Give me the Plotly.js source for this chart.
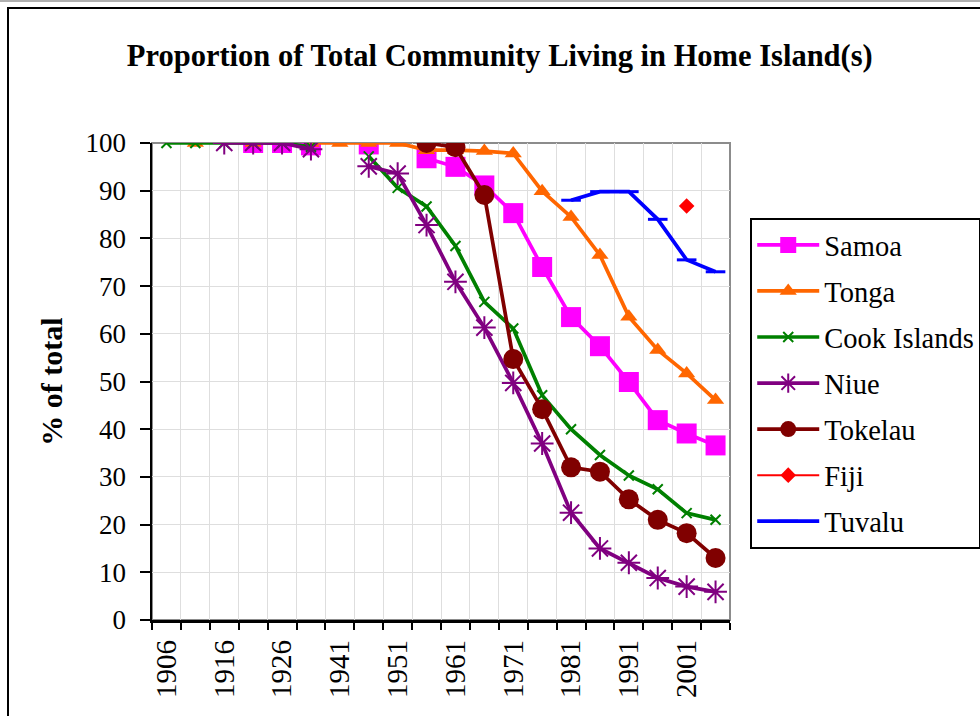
<!DOCTYPE html>
<html>
<head>
<meta charset="utf-8">
<script src="https://cdn.plot.ly/plotly-3.0.1.min.js"></script>
<style>
  html, body { margin: 0; padding: 0; background: #ffffff; }
  #wrap { position: relative; width: 980px; height: 716px; overflow: hidden; }
  #chart { width: 980px; height: 716px; }
  #frame { position: absolute; left: 7px; top: 7px; width: 1100px; height: 1100px;
           border: 2.5px solid #000; pointer-events: none; }
  #topline { position: absolute; left: 0; top: 0; width: 980px; height: 2px;
             background: #b0b0b0; pointer-events: none; }
</style>
</head>
<body>
<div id="wrap">
  <div id="chart"></div>
  <div id="frame"></div>
  <div id="topline"></div>
</div>
<script>
const categories = ['1906','1911','1916','1921','1926','1936','1941','1945','1951','1956',
                    '1961','1966','1971','1976','1981','1986','1991','1996','2001','2006'];
const tickLabels = ['1906','','1916','','1926','','1941','','1951','',
                    '1961','','1971','','1981','','1991','','2001',''];

const samoa   = [null,null,null,100,100,99.5,null,99.7,null,96.8,95.0,91.1,85.3,74.0,63.5,57.4,49.9,41.9,39.1,36.6];
const tonga   = [null,100,null,100,null,100,100,100,100,98.5,98.5,98.3,97.8,89.9,84.5,76.5,63.6,56.6,51.7,46.1];
const cook    = [100,100,100,100,100,99.2,null,97.2,90.6,86.7,78.4,66.7,61.1,47.1,40.0,34.6,30.3,27.4,22.4,21.0];
const niue    = [null,null,100,100,100,98.7,null,95.1,93.6,82.8,70.9,61.3,49.7,37.0,22.5,15.0,12.0,8.8,7.0,5.9];
const tokelau = [null,null,null,null,null,null,null,null,null,100,99.1,89.1,54.7,44.2,32.0,31.1,25.3,21.0,18.2,13.0];
const fiji    = [null,null,null,null,null,null,null,null,null,null,null,null,null,null,null,null,null,null,86.8,null];
const tuvalu  = [null,null,null,null,null,null,null,null,null,null,null,null,null,null,88.0,89.8,89.8,84.0,75.5,73.0];

const FONT = '"Liberation Serif", "Times New Roman", Times, serif';

function tr(name, y, color, symbol, size, lw, mline, group) {
  return {
    type: 'scatter', mode: 'lines+markers', name: name, x: categories, y: y,
    legendgroup: group,
    line: { color: color, width: lw },
    marker: { symbol: symbol, size: size, color: color,
              line: { color: color, width: mline } },
    connectgaps: false
  };
}

const traces = [
  tr('Samoa', samoa, '#FF00FF', 'square', 20, 3.7, 0, 'a'),
  tr('Tonga', tonga, '#FF6600', 'triangle-up', 15, 3.7, 0, 'b'),
  tr('Cook Islands', cook, '#008000', 'x-thin-open', 10, 3.7, 2, 'c'),
  tr('Niue', niue, '#800080', 'asterisk-open', 19, 3.7, 2, 'd'),
  tr('Tokelau', tokelau, '#800000', 'circle', 20, 3.7, 0, 'e'),
  tr('Fiji', fiji, '#FF0000', 'diamond', 12, 2, 0, 'f'),
  tr('Tuvalu', tuvalu, '#0000FF', 'line-ew-open', 14, 3.7, 3, 'g')
];

const layout = {
  width: 980, height: 716,
  margin: { l: 152, r: 250, t: 143, b: 96, autoexpand: false },
  paper_bgcolor: '#ffffff', plot_bgcolor: '#ffffff',
  font: { family: FONT, color: '#000000', size: 27 },
  title: { text: '<b>Proportion of Total Community Living in Home Island(s)</b>',
           x: 0.51, xanchor: 'center', y: 0.923, yanchor: 'middle',
           font: { family: FONT, size: 30.5, color: '#000' } },
  xaxis: {
    type: 'category', categoryorder: 'array', categoryarray: categories,
    tickmode: 'array', tickvals: categories, ticktext: tickLabels,
    tickson: 'boundaries', ticks: 'outside', ticklen: 7, tickwidth: 2, tickcolor: '#000',
    tickangle: -90, tickfont: { family: FONT, size: 29 }, ticklabelstandoff: 6,
    showline: true, linecolor: '#000', linewidth: 2.5,
    showgrid: true, gridcolor: '#dedede', gridwidth: 1,
    range: [-0.5, categories.length - 0.5], fixedrange: true
  },
  yaxis: {
    range: [0, 100], dtick: 10, tick0: 0,
    ticks: 'outside', ticklen: 10, tickwidth: 2, tickcolor: '#000',
    tickfont: { family: FONT, size: 27 }, ticklabelstandoff: 8,
    showline: true, linecolor: '#000', linewidth: 2.5,
    showgrid: true, gridcolor: '#dedede', gridwidth: 1, zeroline: false,
    title: { text: '<b>% of total</b>', font: { family: FONT, size: 30 }, standoff: 14 },
    fixedrange: true
  },
  legend: {
    x: 1.035, xanchor: 'left', y: 0.843, yanchor: 'top',
    bgcolor: '#ffffff', bordercolor: '#000000', borderwidth: 2,
    font: { family: FONT, size: 28.5 },
    traceorder: 'grouped', tracegroupgap: 6, itemwidth: 62
  },
  shapes: [
    { type: 'rect', xref: 'paper', yref: 'paper', x0: 0, x1: 1, y0: 0, y1: 1,
      line: { color: '#8c8c8c', width: 2 }, layer: 'below' }
  ],
  showlegend: true
};

Plotly.newPlot('chart', traces, layout, { displayModeBar: false, staticPlot: true });
</script>
</body>
</html>
